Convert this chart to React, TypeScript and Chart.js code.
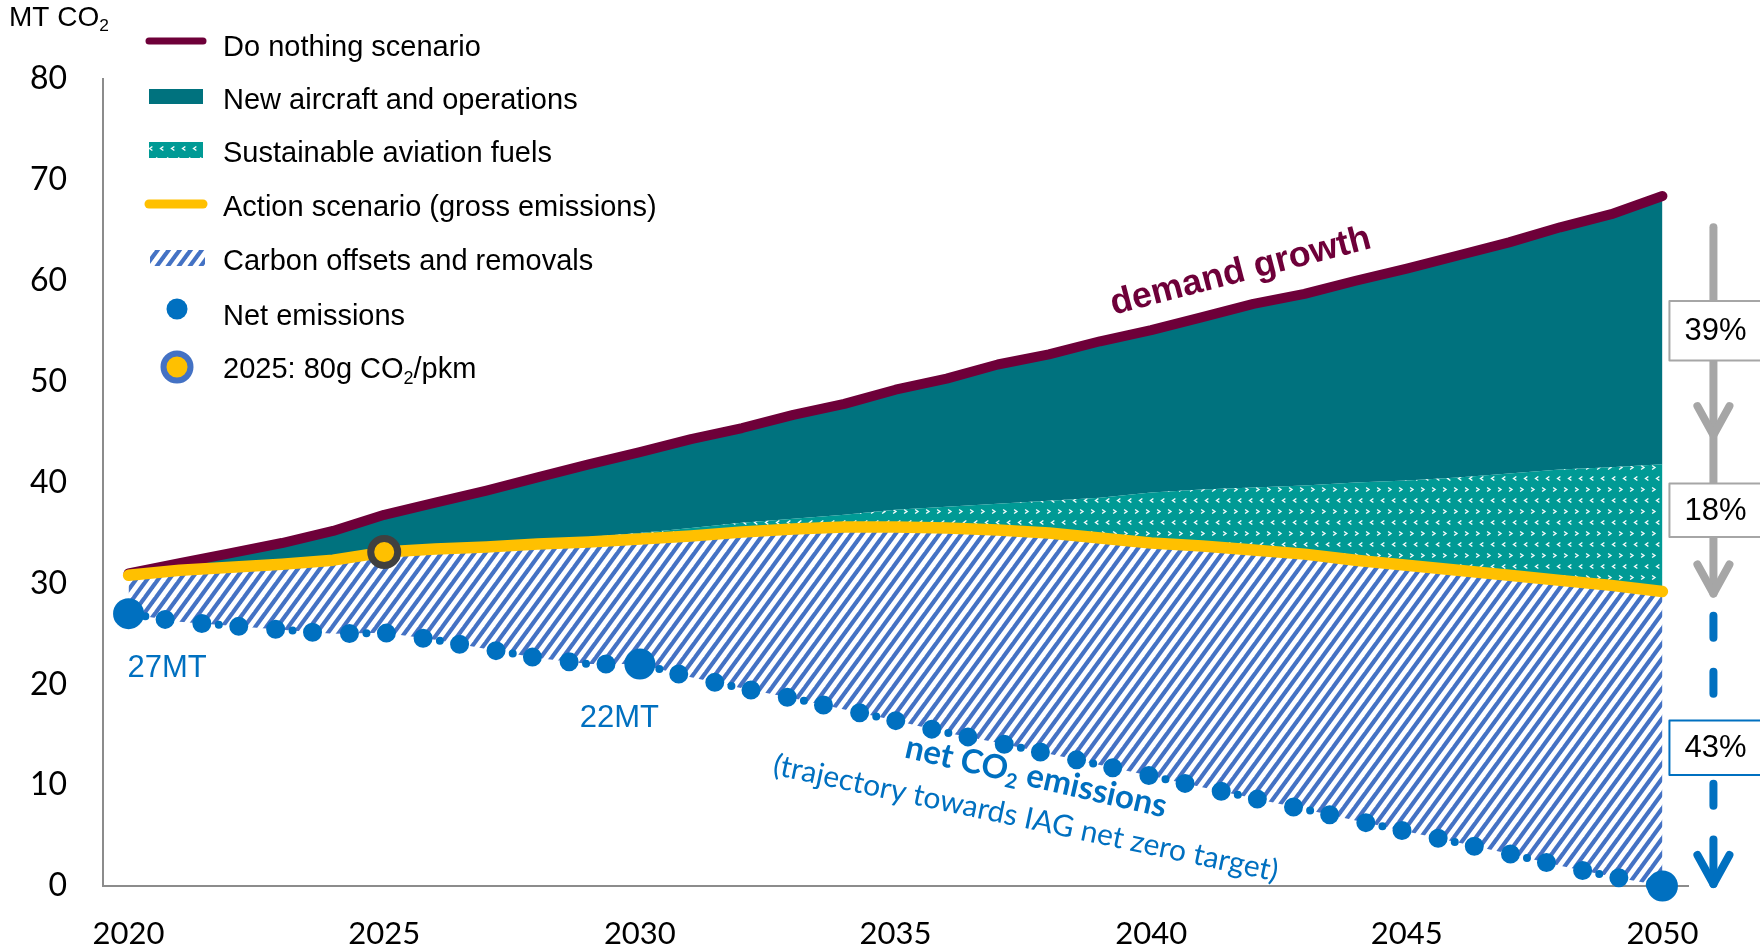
import { useEffect, useRef } from "react";
import { Chart, registerables } from "chart.js";

Chart.register(...registerables);

// ---------- data ----------
const years = [
  2020, 2021, 2022, 2023, 2024, 2025, 2026, 2027, 2028, 2029, 2030,
  2031, 2032, 2033, 2034, 2035, 2036, 2037, 2038, 2039, 2040,
  2041, 2042, 2043, 2044, 2045, 2046, 2047, 2048, 2049, 2050,
];
const doNothing = [
  31.0, 32.0, 33.0, 34.0, 35.2, 36.8, 38.0, 39.2, 40.5, 41.8, 43.0,
  44.3, 45.4, 46.7, 47.8, 49.2, 50.3, 51.7, 52.7, 54.0, 55.1,
  56.4, 57.7, 58.7, 60.0, 61.2, 62.5, 63.8, 65.3, 66.6, 68.4,
];
const safTop = [
  30.9, 31.4, 31.7, 32.0, 32.4, 33.3, 33.7, 34.0, 34.3, 34.6, 35.0,
  35.5, 36.0, 36.4, 36.8, 37.3, 37.6, 37.9, 38.2, 38.5, 39.0,
  39.3, 39.5, 39.7, 40.0, 40.2, 40.5, 40.9, 41.3, 41.5, 41.8,
];
const actionScenario = [
  30.8, 31.3, 31.6, 31.9, 32.3, 33.1, 33.4, 33.6, 33.9, 34.1, 34.4,
  34.7, 35.1, 35.4, 35.6, 35.6, 35.5, 35.3, 35.0, 34.5, 34.0,
  33.7, 33.3, 32.9, 32.3, 31.8, 31.3, 30.8, 30.3, 29.8, 29.2,
];
const netEmissions = [
  27.0, 26.2, 25.8, 25.4, 25.0, 25.1, 24.4, 23.5, 22.6, 22.0, 22.0,
  20.7, 19.6, 18.6, 17.5, 16.4, 15.2, 14.2, 13.1, 12.0, 10.9,
  9.8, 8.7, 7.6, 6.5, 5.4, 4.3, 3.2, 2.0, 0.95, 0.0,
];
const bigDotYears = [2020, 2030, 2050];
const marker2025 = [{ x: 2025, y: 33.1 }];
const xTicks = [2020, 2025, 2030, 2035, 2040, 2045, 2050];

const legendLabels = [
  "Do nothing scenario",
  "New aircraft and operations",
  "Sustainable aviation fuels",
  "Action scenario (gross emissions)",
  "Carbon offsets and removals",
  "Net emissions",
  "2025: 80g CO|2|/pkm",
];
const valueLabels = [
  { text: "27MT", x: 2019.98, y: 21.6, align: "left" },
  { text: "22MT", x: 2029.6, y: 16.6, align: "center" },
];
const reductionLabels = ["39%", "18%", "43%"];

// ---------- colours ----------
const C_MAROON = "#6E0039";
const C_TEAL = "#00727E";
const C_SAF = "#009A95";
const C_YELLOW = "#FFC000";
const C_HATCH = "#4472C4";
const C_NET = "#0070C0";
const C_GREY = "#A6A6A6";

type Part = { t: string; sub?: boolean };
const parseParts = (s: string): Part[] =>
  s.split("|").map((t, i) => ({ t, sub: i % 2 === 1 }));

function drawRich(
  ctx: CanvasRenderingContext2D,
  parts: Part[],
  x: number,
  y: number,
  size: number,
  family: string,
  weight: string,
  align: "left" | "center" | "right",
  color: string
) {
  const f = (s: number) => `${weight} ${s}px "${family}"`;
  const subSize = size * 0.62;
  let w = 0;
  for (const p of parts) {
    ctx.font = f(p.sub ? subSize : size);
    w += ctx.measureText(p.t).width;
  }
  let cx = align === "left" ? x : align === "center" ? x - w / 2 : x - w;
  ctx.fillStyle = color;
  ctx.textBaseline = "middle";
  ctx.textAlign = "left";
  for (const p of parts) {
    ctx.font = f(p.sub ? subSize : size);
    ctx.fillText(p.t, cx, p.sub ? y + size * 0.3 : y);
    cx += ctx.measureText(p.t).width;
  }
}

function makeHatch(): CanvasPattern {
  const W = 11, H = 15;
  const c = document.createElement("canvas");
  c.width = W;
  c.height = H;
  const g = c.getContext("2d")!;
  g.fillStyle = "#ffffff";
  g.fillRect(0, 0, W, H);
  g.strokeStyle = C_HATCH;
  g.lineWidth = 4.2;
  for (const n of [0, 1, 2]) {
    g.beginPath();
    g.moveTo(n * W + W, -H);
    g.lineTo(n * W - 2 * W, 2 * H);
    g.stroke();
  }
  return g.createPattern(c, "repeat")!;
}

function makeSaf(): CanvasPattern {
  const W = 11, H = 22;
  const c = document.createElement("canvas");
  c.width = W;
  c.height = H;
  const g = c.getContext("2d")!;
  g.fillStyle = C_SAF;
  g.fillRect(0, 0, W, H);
  g.strokeStyle = "rgba(255,255,255,0.95)";
  g.lineWidth = 1.5;
  const chev = (cx: number, cy: number, dir: number) => {
    g.beginPath();
    g.moveTo(cx - 1.4 * dir, cy - 2);
    g.lineTo(cx + 1.4 * dir, cy);
    g.lineTo(cx - 1.4 * dir, cy + 2);
    g.stroke();
  };
  chev(3.5, 5.5, 1);
  chev(8, 16.5, -1);
  return g.createPattern(c, "repeat")!;
}

function makeOverlay(hatch: CanvasPattern, saf: CanvasPattern) {
  return {
    id: "overlay",
    afterDraw(chart: any) {
      const ctx: CanvasRenderingContext2D = chart.ctx;
      const xs = chart.scales.x;
      const ys = chart.scales.y;
      const X = (v: number) => xs.getPixelForValue(v);
      const Y = (v: number) => ys.getPixelForValue(v);
      ctx.save();

      // axis unit
      drawRich(ctx, parseParts("MT CO|2|"), 9, 18, 28, "Liberation Sans", "normal", "left", "#000");

      // legend
      const rows = [48, 101, 154, 208, 262, 317, 370];
      const tx = 223;
      ctx.lineCap = "round";
      ctx.strokeStyle = C_MAROON;
      ctx.lineWidth = 7;
      ctx.beginPath();
      ctx.moveTo(149, rows[0] - 7);
      ctx.lineTo(203, rows[0] - 7);
      ctx.stroke();
      ctx.fillStyle = C_TEAL;
      ctx.fillRect(149, rows[1] - 12, 54, 15);
      ctx.fillStyle = saf;
      ctx.fillRect(149, rows[2] - 12, 54, 16);
      ctx.strokeStyle = C_YELLOW;
      ctx.lineWidth = 9;
      ctx.beginPath();
      ctx.moveTo(149, rows[3] - 4);
      ctx.lineTo(203, rows[3] - 4);
      ctx.stroke();
      ctx.fillStyle = hatch;
      ctx.fillRect(150, rows[4] - 12, 55, 16);
      ctx.fillStyle = C_NET;
      ctx.beginPath();
      ctx.arc(177, rows[5] - 8, 10.5, 0, Math.PI * 2);
      ctx.fill();
      ctx.fillStyle = C_YELLOW;
      ctx.strokeStyle = C_HATCH;
      ctx.lineWidth = 6;
      ctx.beginPath();
      ctx.arc(177, rows[6] - 3, 13.5, 0, Math.PI * 2);
      ctx.fill();
      ctx.stroke();
      legendLabels.forEach((l, i) => {
        drawRich(ctx, parseParts(l), tx, rows[i], 29, "Liberation Sans", "normal", "left", "#000");
      });

      // value labels
      for (const v of valueLabels) {
        drawRich(ctx, [{ t: v.text }], X(v.x), Y(v.y), 31, "Liberation Sans", "normal", v.align as any, C_NET);
      }

      // rotated annotations
      const rot = (cx: number, cy: number, deg: number, fn: () => void) => {
        ctx.save();
        ctx.translate(cx, cy);
        ctx.rotate((deg * Math.PI) / 180);
        fn();
        ctx.restore();
      };
      rot(X(2041.75), Y(60.9), -14.5, () =>
        drawRich(ctx, [{ t: "demand growth" }], 0, 0, 36, "Liberation Sans", "bold", "center", C_MAROON)
      );
      rot(X(2037.75), Y(10.8), 13, () =>
        drawRich(ctx, parseParts("net CO|2| emissions"), 0, 0, 33, "Lato", "bold", "center", C_NET)
      );
      rot(X(2037.55), Y(6.7), 12, () =>
        drawRich(ctx, [{ t: "(trajectory towards IAG net zero target)" }], 0, 0, 30, "Lato", "normal", "center", C_NET)
      );

      // right-side reduction arrows
      const ax = X(2050) + 51;
      const boxL = X(2050) + 7;
      const chevron = (tipY: number, color: string) => {
        ctx.strokeStyle = color;
        ctx.lineWidth = 8;
        ctx.lineCap = "round";
        ctx.lineJoin = "round";
        ctx.beginPath();
        ctx.moveTo(ax - 16, tipY - 29);
        ctx.lineTo(ax, tipY);
        ctx.lineTo(ax + 16, tipY - 29);
        ctx.stroke();
      };
      ctx.strokeStyle = C_GREY;
      ctx.lineWidth = 8;
      ctx.lineCap = "round";
      ctx.beginPath();
      ctx.moveTo(ax, Y(65.3));
      ctx.lineTo(ax, Y(29.0));
      ctx.stroke();
      chevron(Y(44.7), C_GREY);
      chevron(Y(29.0), C_GREY);
      ctx.strokeStyle = C_NET;
      ctx.lineWidth = 8;
      ctx.lineCap = "round";
      ctx.setLineDash([22, 34]);
      ctx.beginPath();
      ctx.moveTo(ax, Y(26.8));
      ctx.lineTo(ax, Y(7.6));
      ctx.stroke();
      ctx.setLineDash([]);
      ctx.beginPath();
      ctx.moveTo(ax, Y(4.6));
      ctx.lineTo(ax, Y(0.2));
      ctx.stroke();
      chevron(Y(0.2), C_NET);

      const boxes = [
        { top: 58.0, bottom: 52.1, color: C_GREY },
        { top: 39.9, bottom: 34.6, color: C_GREY },
        { top: 16.4, bottom: 11.0, color: C_NET },
      ];
      boxes.forEach((b, i) => {
        const t = Y(b.top), bt = Y(b.bottom);
        ctx.fillStyle = "#fff";
        ctx.fillRect(boxL, t, 120, bt - t);
        ctx.strokeStyle = b.color;
        ctx.lineWidth = 2;
        ctx.strokeRect(boxL, t, 120, bt - t);
        drawRich(ctx, [{ t: reductionLabels[i] }], ax + 2, (t + bt) / 2 + 1, 31, "Liberation Sans", "normal", "center", "#000");
      });

      ctx.restore();
    },
  };
}

export default function App() {
  const ref = useRef<HTMLCanvasElement>(null);
  useEffect(() => {
    document.body.style.margin = "0";
    const canvas = ref.current!;
    const hatch = makeHatch();
    const saf = makeSaf();
    const pts = (vals: number[]) => years.map((x, i) => ({ x, y: vals[i] }));
    const chart = new Chart(canvas, {
      type: "line",
      data: {
        datasets: [
          {
            label: "2025 marker",
            data: marker2025,
            showLine: false,
            pointRadius: 13.5,
            pointBorderWidth: 7,
            pointBackgroundColor: C_YELLOW,
            pointBorderColor: "#404040",
            clip: false,
          },
          {
            label: "Net emissions (small dots)",
            data: pts(netEmissions),
            borderColor: C_NET,
            borderWidth: 8,
            borderDash: [0, 74],
            borderDashOffset: 57,
            borderCapStyle: "round",
            pointRadius: 0,
            fill: false,
            clip: false,
          },
          {
            label: "Net emissions",
            data: pts(netEmissions),
            borderColor: C_NET,
            borderWidth: 19,
            borderDash: [0, 37],
            borderCapStyle: "round",
            pointRadius: years.map((y) => (bigDotYears.includes(y) ? 15.5 : 0)),
            pointBackgroundColor: C_NET,
            pointBorderWidth: 0,
            fill: false,
            clip: false,
          },
          {
            label: "Action scenario (gross emissions)",
            data: pts(actionScenario),
            borderColor: C_YELLOW,
            borderWidth: 11.5,
            borderCapStyle: "round",
            borderJoinStyle: "round",
            pointRadius: 0,
            fill: 2,
            backgroundColor: hatch,
            clip: false,
          },
          {
            label: "Sustainable aviation fuels",
            data: pts(safTop),
            borderWidth: 0,
            borderColor: "rgba(0,0,0,0)",
            pointRadius: 0,
            fill: 3,
            backgroundColor: saf,
          },
          {
            label: "Do nothing scenario",
            data: pts(doNothing),
            borderColor: C_MAROON,
            borderWidth: 10,
            borderCapStyle: "round",
            borderJoinStyle: "round",
            pointRadius: 0,
            fill: 4,
            backgroundColor: C_TEAL,
            clip: false,
          },
        ] as any,
      },
      options: {
        responsive: false,
        animation: false,
        devicePixelRatio: 1,
        layout: { padding: { left: 0, right: 72, top: 79, bottom: 0 } },
        plugins: { legend: { display: false }, tooltip: { enabled: false } },
        elements: { line: { tension: 0 } },
        scales: {
          x: {
            type: "linear",
            min: 2019.5,
            max: 2050.5,
            afterBuildTicks: (s: any) => {
              s.ticks = xTicks.map((v) => ({ value: v }));
            },
            afterFit: (s: any) => {
              s.height = 64;
            },
            grid: { display: false, drawTicks: false },
            border: { display: true, color: "#8C8C8C", width: 2 },
            ticks: {
              color: "#000",
              font: { family: "Lato", size: 31 },
              padding: 29,
              maxRotation: 0,
              autoSkip: false,
              callback: (v: any) => String(v),
            },
          },
          y: {
            type: "linear",
            min: 0,
            max: 80,
            afterFit: (s: any) => {
              s.width = 103;
            },
            grid: { display: false, drawTicks: false },
            border: { display: true, color: "#8C8C8C", width: 2 },
            ticks: {
              stepSize: 10,
              color: "#000",
              font: { family: "Lato", size: 32 },
              padding: 36,
            },
          },
        },
      } as any,
      plugins: [makeOverlay(hatch, saf)],
    });
    return () => chart.destroy();
  }, []);
  return (
    <canvas
      ref={ref}
      width={1760}
      height={950}
      style={{ display: "block", width: 1760, height: 950 }}
    />
  );
}
